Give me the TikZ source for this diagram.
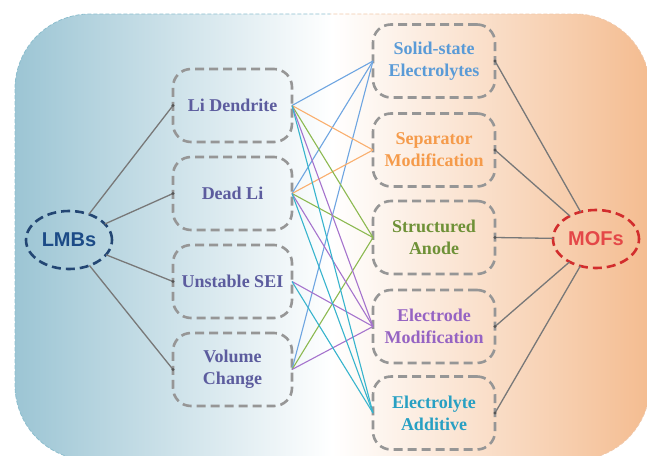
\documentclass[tikz,border=0pt]{standalone}
\usepackage{fontspec}
\setmainfont{Liberation Serif}
\newfontfamily\sansbold{Liberation Sans}
\usetikzlibrary{shapes.geometric}

\definecolor{bgblue}{RGB}{156,197,212}
\definecolor{bgorange}{RGB}{244,188,144}
\definecolor{bordblue}{RGB}{140,190,206}
\definecolor{bordorange}{RGB}{240,200,170}
\definecolor{boxgray}{RGB}{150,150,150}
\definecolor{linkgray}{RGB}{120,120,120}
\definecolor{dotgray}{RGB}{85,85,85}
\definecolor{probtext}{RGB}{92,92,158}
\definecolor{txblue}{RGB}{90,155,215}
\definecolor{txorange}{RGB}{245,155,75}
\definecolor{txgreen}{RGB}{110,145,55}
\definecolor{txpurple}{RGB}{150,100,195}
\definecolor{txcyan}{RGB}{40,160,195}
\definecolor{wblue}{RGB}{110,165,225}
\definecolor{worange}{RGB}{250,175,110}
\definecolor{wgreen}{RGB}{140,185,80}
\definecolor{wpurple}{RGB}{165,115,205}
\definecolor{wcyan}{RGB}{55,180,205}
\definecolor{lmbline}{RGB}{35,70,115}
\definecolor{lmbtext}{RGB}{28,75,135}
\definecolor{mofline}{RGB}{210,45,45}
\definecolor{moftext}{RGB}{228,72,72}

\begin{document}
\begin{tikzpicture}[x=1pt,y=-1pt,
  box/.style={draw=boxgray, dash pattern=on 9pt off 5pt, line width=2.6pt,
    rounded corners=18pt, minimum width=119pt, minimum height=73pt,
    align=center, font=\fontsize{18}{22}\selectfont\bfseries,
    outer sep=0pt, inner sep=0pt},
  rbox/.style={box, minimum width=122pt},
  hub/.style={ellipse, dash pattern=on 9pt off 5pt, line width=2.6pt,
    minimum width=86pt, minimum height=58pt, inner sep=0pt, outer sep=0pt,
    font=\sansbold\bfseries\fontsize{20}{24}\selectfont},
  link/.style={line width=1.3pt, draw=linkgray},
  tipdot/.style={circle, fill=dotgray, inner sep=0pt, minimum size=3.4pt},
  wire/.style={line width=1.1pt}
]
\useasboundingbox (0,0) rectangle (647,455);

% background panel
\path[left color=bgblue, right color=bgorange, middle color=white, rounded corners=75pt]
  (15,14) rectangle (650,460);
\begin{scope}
  \clip (0,0) rectangle (330,455);
  \draw[bordblue, dash pattern=on 4pt off 2pt, line width=0.8pt, rounded corners=75pt]
    (15,14) rectangle (650,460);
\end{scope}
\begin{scope}
  \clip (330,0) rectangle (647,455);
  \draw[bordorange, dash pattern=on 4pt off 2pt, line width=0.8pt, rounded corners=75pt]
    (15,14) rectangle (650,460);
\end{scope}

% hubs
\node[hub, draw=lmbline, text=lmbtext] (lmb) at (69,240) {LMBs};
\node[hub, draw=mofline, text=moftext] (mof) at (596,239) {MOFs};

% problems
\node[box, text=probtext] (p1) at (232.5,105.5) {Li Dendrite};
\node[box, text=probtext] (p2) at (232.5,193.5) {Dead Li};
\node[box, text=probtext] (p3) at (232.5,281.5) {Unstable SEI};
\node[box, text=probtext] (p4) at (232.5,369.5) {Volume\\Change};

% strategies
\node[rbox, text=txblue] (s1) at (434,61) {Solid-state\\Electrolytes};
\node[rbox, text=txorange] (s2) at (434,150) {Separator\\Modification};
\node[rbox, text=txgreen] (s3) at (434,237.5) {Structured\\Anode};
\node[rbox, text=txpurple] (s4) at (434,326.5) {Electrode\\Modification};
\node[rbox, text=txcyan] (s5) at (434,413) {Electrolyte\\Additive};

% LMBs -> problems
\foreach \p in {p1,p2,p3,p4}{
  \draw[link] (lmb) -- (\p.west);
  \node[tipdot] at (\p.west) {};
}
% MOFs -> strategies
\foreach \s in {s1,s2,s3,s4,s5}{
  \draw[link] (mof) -- (\s.east);
  \node[tipdot] at (\s.east) {};
}

% colored wires
\draw[wire, wblue] (p1.east) -- (s1.west);
\draw[wire, wblue] (p2.east) -- (s1.west);
\draw[wire, wblue] (p4.east) -- (s1.west);
\draw[wire, worange] (p1.east) -- (s2.west);
\draw[wire, worange] (p2.east) -- (s2.west);
\draw[wire, wgreen] (p1.east) -- (s3.west);
\draw[wire, wgreen] (p2.east) -- (s3.west);
\draw[wire, wgreen] (p4.east) -- (s3.west);
\draw[wire, wpurple] (p1.east) -- (s4.west);
\draw[wire, wpurple] (p2.east) -- (s4.west);
\draw[wire, wpurple] (p3.east) -- (s4.west);
\draw[wire, wpurple] (p4.east) -- (s4.west);
\draw[wire, wcyan] (p1.east) -- (s5.west);
\draw[wire, wcyan] (p2.east) -- (s5.west);
\draw[wire, wcyan] (p3.east) -- (s5.west);
\end{tikzpicture}
\end{document}
